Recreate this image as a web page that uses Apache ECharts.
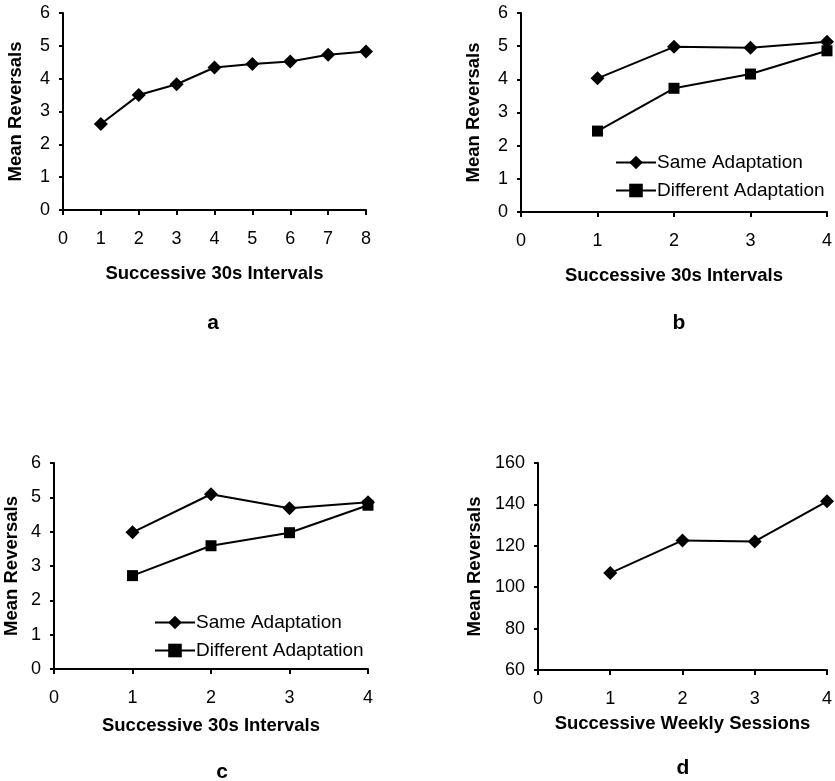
<!DOCTYPE html>
<html>
<head>
<meta charset="utf-8">
<script src="https://cdn.jsdelivr.net/npm/echarts@6/dist/echarts.min.js"></script>
<style>
  html, body { margin: 0; padding: 0; background: #fff; }
  #chart { width: 835px; height: 781px; }
</style>
</head>
<body>
<div id="chart"></div>
<script>
// Panel a: reversals over eight successive 30 s intervals
const intervalsA = [1, 2, 3, 4, 5, 6, 7, 8];
const reversalsA = [2.62, 3.5, 3.83, 4.34, 4.45, 4.52, 4.73, 4.83];

// Panel b: same vs different adaptation, four 30 s intervals
const intervalsB = [1, 2, 3, 4];
const sameB = [4.03, 4.98, 4.95, 5.13];
const diffB = [2.44, 3.73, 4.16, 4.86];

// Panel c: same vs different adaptation, four 30 s intervals
const intervalsC = [1, 2, 3, 4];
const sameC = [3.98, 5.09, 4.68, 4.86];
const diffC = [2.72, 3.59, 3.97, 4.77];

// Panel d: reversals over successive weekly sessions
const sessionsD = [1, 2, 3, 4];
const reversalsD = [106.8, 122.6, 122.1, 141.5];

const panelLetters = ['a', 'b', 'c', 'd'];
const seriesNames = ['Same Adaptation', 'Different Adaptation'];
const xTitles = ['Successive 30s Intervals', 'Successive 30s Intervals',
                 'Successive 30s Intervals', 'Successive Weekly Sessions'];
const yTitle = 'Mean Reversals';

const FONT = '"Liberation Sans", Arial, Helvetica, sans-serif';
const pairs = (xs, ys) => xs.map((x, i) => [x, ys[i]]);

const grids = [
  { left: 63,  top: 13,  width: 303, height: 197 },
  { left: 521, top: 13,  width: 308, height: 199 },
  { left: 54,  top: 463, width: 314, height: 206 },
  { left: 538, top: 463, width: 292, height: 207 }
];

const xMax = [8, 4, 4, 4];
const xGaps = [54, 54, 47, 44];
const yRanges = [[0, 6, 1], [0, 6, 1], [0, 6, 1], [60, 160, 20]];
const yGaps = [38, 38, 33, 54];

const axisLineStyle = { color: '#000', width: 2 };
const titleStyle = { fontFamily: FONT, fontWeight: 'bold', fontSize: 18.5, color: '#000' };

const xAxes = grids.map((g, i) => ({
  type: 'value', gridIndex: i, min: 0, max: xMax[i], interval: 1,
  name: xTitles[i], nameLocation: 'middle', nameGap: xGaps[i],
  nameTextStyle: titleStyle,
  axisLine: { show: true, lineStyle: axisLineStyle },
  axisTick: { show: true, inside: false, length: 5, lineStyle: axisLineStyle },
  axisLabel: { fontFamily: FONT, fontSize: 18, color: '#000', margin: 20 },
  splitLine: { show: false }
}));

const yAxes = grids.map((g, i) => ({
  type: 'value', gridIndex: i,
  min: yRanges[i][0], max: yRanges[i][1], interval: yRanges[i][2],
  name: yTitle, nameLocation: 'middle', nameGap: yGaps[i],
  nameTextStyle: titleStyle,
  axisLine: { show: true, lineStyle: axisLineStyle },
  axisTick: { show: true, inside: false, length: 4, lineStyle: axisLineStyle },
  axisLabel: { fontFamily: FONT, fontSize: 18, color: '#000', margin: 13 },
  splitLine: { show: false }
}));

const lineBase = {
  type: 'line',
  color: '#000',
  lineStyle: { color: '#000', width: 2 },
  itemStyle: { color: '#000' },
  showSymbol: true,
  silent: true,
  animation: false
};
const diamond = { symbol: 'diamond', symbolSize: [14, 14] };
const square = { symbol: 'rect', symbolSize: [11, 11] };

const series = [
  Object.assign({}, lineBase, diamond, { name: 'a', xAxisIndex: 0, yAxisIndex: 0, data: pairs(intervalsA, reversalsA) }),
  Object.assign({}, lineBase, diamond, { name: seriesNames[0], xAxisIndex: 1, yAxisIndex: 1, data: pairs(intervalsB, sameB) }),
  Object.assign({}, lineBase, square,  { name: seriesNames[1], xAxisIndex: 1, yAxisIndex: 1, data: pairs(intervalsB, diffB) }),
  Object.assign({}, lineBase, diamond, { name: seriesNames[0], xAxisIndex: 2, yAxisIndex: 2, data: pairs(intervalsC, sameC) }),
  Object.assign({}, lineBase, square,  { name: seriesNames[1], xAxisIndex: 2, yAxisIndex: 2, data: pairs(intervalsC, diffC) }),
  Object.assign({}, lineBase, diamond, { name: 'd', xAxisIndex: 3, yAxisIndex: 3, data: pairs(sessionsD, reversalsD) })
];

const legendBase = {
  data: seriesNames,
  orient: 'vertical',
  itemWidth: 40,
  itemHeight: 17,
  itemGap: 9,
  selectedMode: false,
  textStyle: { fontFamily: FONT, fontSize: 19, color: '#000', padding: [0, 0, 0, -4] },
  padding: 0
};

const letterPos = [[213, 323], [679, 323], [222, 772], [683, 768]];

const option = {
  backgroundColor: '#fff',
  animation: false,
  grid: grids,
  xAxis: xAxes,
  yAxis: yAxes,
  series: series,
  legend: [
    Object.assign({}, legendBase, { left: 615, top: 153 }),
    Object.assign({}, legendBase, { left: 154, top: 613 })
  ],
  graphic: panelLetters.map((t, i) => ({
    type: 'text',
    x: letterPos[i][0], y: letterPos[i][1],
    style: {
      text: t, fontFamily: FONT, fontWeight: 'bold', fontSize: 21,
      fill: '#000', align: 'center', verticalAlign: 'middle'
    }
  }))
};

const chart = echarts.init(document.getElementById('chart'), null, { renderer: 'canvas' });
chart.setOption(option);
</script>
</body>
</html>
